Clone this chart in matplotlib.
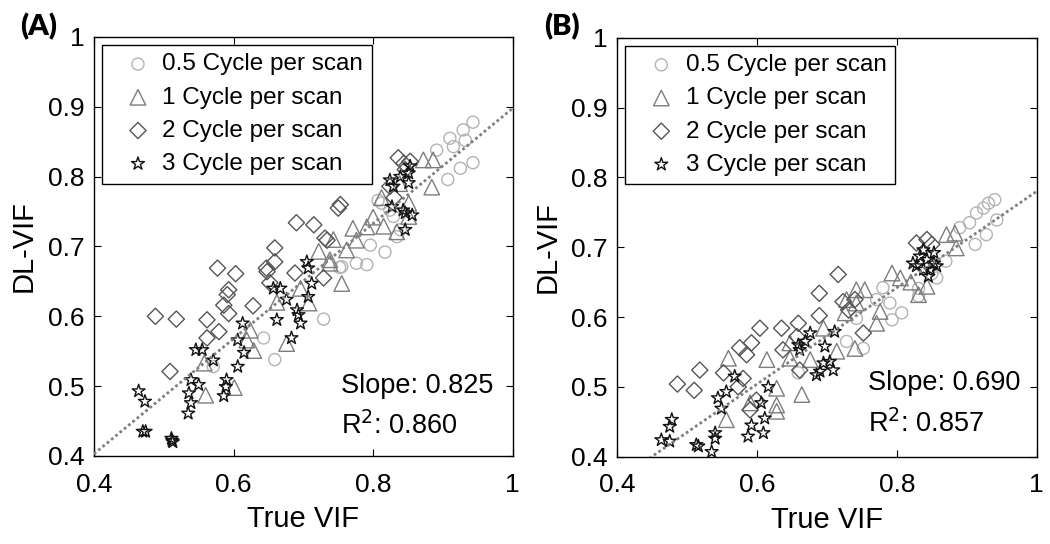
import matplotlib
matplotlib.use("Agg")
import matplotlib.pyplot as plt
import numpy as np

# ---------------- data ----------------
labels = ["0.5 Cycle per scan", "1 Cycle per scan", "2 Cycle per scan", "3 Cycle per scan"]
xticks = [0.4, 0.6, 0.8, 1.0]
xticklabels = ["0.4", "0.6", "0.8", "1"]
yticks = [0.4, 0.5, 0.6, 0.7, 0.8, 0.9, 1.0]
yticklabels = ["0.4", "0.5", "0.6", "0.7", "0.8", "0.9", "1"]

# Panel A
circ_A_x = [0.943, 0.929, 0.910, 0.932, 0.891, 0.915, 0.943, 0.925, 0.907, 0.812, 0.824, 0.829, 0.839, 0.834,
            0.796, 0.817, 0.776, 0.791, 0.755, 0.752, 0.729, 0.643, 0.659, 0.571, 0.807]
circ_A_y = [0.878, 0.867, 0.855, 0.852, 0.838, 0.843, 0.820, 0.812, 0.796, 0.762, 0.752, 0.743, 0.724, 0.714,
            0.702, 0.692, 0.676, 0.674, 0.671, 0.670, 0.596, 0.569, 0.538, 0.528, 0.766]
tri_A_x = [0.872, 0.886, 0.884, 0.851, 0.851, 0.834, 0.815, 0.800, 0.791, 0.771, 0.776, 0.762, 0.722, 0.738,
           0.738, 0.743, 0.755, 0.696, 0.708, 0.662, 0.676, 0.624, 0.619, 0.629, 0.558, 0.560, 0.601, 0.838, 0.812]
tri_A_y = [0.824, 0.824, 0.785, 0.762, 0.743, 0.721, 0.729, 0.742, 0.728, 0.726, 0.709, 0.695, 0.693, 0.681,
           0.676, 0.710, 0.647, 0.640, 0.619, 0.620, 0.561, 0.580, 0.566, 0.551, 0.533, 0.487, 0.498, 0.790, 0.770]
diam_A_x = [0.836, 0.844, 0.853, 0.846, 0.824, 0.753, 0.750, 0.690, 0.715, 0.731, 0.734, 0.659, 0.659, 0.647,
            0.688, 0.729, 0.577, 0.603, 0.593, 0.591, 0.586, 0.593, 0.628, 0.488, 0.518, 0.562, 0.579, 0.562,
            0.509, 0.652, 0.648, 0.830]
diam_A_y = [0.827, 0.819, 0.822, 0.810, 0.786, 0.760, 0.755, 0.734, 0.731, 0.712, 0.709, 0.698, 0.678, 0.669,
            0.662, 0.655, 0.669, 0.661, 0.638, 0.631, 0.616, 0.604, 0.615, 0.600, 0.596, 0.595, 0.578, 0.569,
            0.521, 0.648, 0.664, 0.770]
star_A_x = [0.464, 0.473, 0.470, 0.474, 0.511, 0.513, 0.512, 0.546, 0.555, 0.571, 0.539, 0.550, 0.536, 0.539,
            0.535, 0.590, 0.589, 0.586, 0.613, 0.606, 0.615, 0.606, 0.657, 0.667, 0.676, 0.662, 0.691, 0.693,
            0.696, 0.683, 0.705, 0.707, 0.712, 0.707, 0.824, 0.829, 0.827, 0.839, 0.853, 0.851, 0.846, 0.846,
            0.851, 0.843, 0.856]
star_A_y = [0.493, 0.478, 0.435, 0.435, 0.425, 0.420, 0.422, 0.552, 0.552, 0.537, 0.509, 0.502, 0.490, 0.476,
            0.461, 0.509, 0.499, 0.486, 0.590, 0.566, 0.548, 0.528, 0.640, 0.640, 0.624, 0.595, 0.609, 0.602,
            0.590, 0.569, 0.678, 0.669, 0.647, 0.628, 0.795, 0.786, 0.757, 0.800, 0.815, 0.791, 0.748, 0.724,
            0.805, 0.752, 0.745]

# Panel B
circ_B_x = [0.940, 0.931, 0.924, 0.914, 0.904, 0.943, 0.890, 0.928, 0.912, 0.857, 0.831, 0.831, 0.790, 0.771,
            0.793, 0.807, 0.742, 0.728, 0.752, 0.659, 0.780, 0.850, 0.870]
circ_B_y = [0.768, 0.763, 0.756, 0.749, 0.735, 0.739, 0.728, 0.718, 0.704, 0.656, 0.641, 0.630, 0.620, 0.625,
            0.596, 0.606, 0.598, 0.565, 0.555, 0.520, 0.642, 0.662, 0.680]
tri_B_x = [0.871, 0.883, 0.885, 0.793, 0.805, 0.831, 0.843, 0.742, 0.754, 0.728, 0.742, 0.726, 0.776, 0.771,
           0.695, 0.714, 0.740, 0.676, 0.647, 0.614, 0.628, 0.628, 0.628, 0.664, 0.559, 0.556, 0.590, 0.647, 0.820]
tri_B_y = [0.718, 0.720, 0.699, 0.663, 0.656, 0.632, 0.644, 0.639, 0.639, 0.625, 0.620, 0.606, 0.608, 0.591,
           0.584, 0.551, 0.555, 0.539, 0.541, 0.539, 0.498, 0.474, 0.465, 0.489, 0.541, 0.453, 0.477, 0.563, 0.650]
diam_B_x = [0.716, 0.689, 0.689, 0.659, 0.828, 0.843, 0.850, 0.723, 0.731, 0.752, 0.635, 0.604, 0.657, 0.592,
            0.575, 0.585, 0.637, 0.661, 0.552, 0.580, 0.573, 0.518, 0.486, 0.510, 0.590, 0.599, 0.740]
diam_B_y = [0.661, 0.634, 0.602, 0.591, 0.706, 0.711, 0.704, 0.622, 0.610, 0.577, 0.584, 0.584, 0.572, 0.563,
            0.556, 0.546, 0.553, 0.524, 0.520, 0.512, 0.500, 0.524, 0.504, 0.495, 0.467, 0.481, 0.625]
star_B_x = [0.478, 0.475, 0.463, 0.475, 0.513, 0.516, 0.535, 0.540, 0.540, 0.544, 0.549, 0.556, 0.568, 0.587,
            0.592, 0.606, 0.609, 0.611, 0.616, 0.659, 0.661, 0.676, 0.669, 0.697, 0.695, 0.690, 0.685, 0.704,
            0.709, 0.711, 0.823, 0.833, 0.843, 0.853, 0.838, 0.848, 0.857, 0.828, 0.845, 0.853, 0.838]
star_B_y = [0.453, 0.443, 0.424, 0.422, 0.417, 0.415, 0.407, 0.434, 0.426, 0.484, 0.469, 0.493, 0.515, 0.429,
            0.445, 0.477, 0.434, 0.455, 0.500, 0.560, 0.553, 0.577, 0.565, 0.558, 0.534, 0.522, 0.517, 0.536,
            0.524, 0.579, 0.677, 0.687, 0.682, 0.677, 0.668, 0.668, 0.673, 0.673, 0.658, 0.692, 0.696]

fit_slope = [0.825, 0.690]
fit_intercept = [0.073, 0.090]
r2 = [0.860, 0.857]
panel_tags = ["(A)", "(B)"]

# ---------------- style ----------------
plt.rcParams['font.family'] = ['Liberation Sans', 'DejaVu Sans']
styles = [
    dict(marker='o', s=75, edgecolor='#b3b3b3'),
    dict(marker='^', s=125, edgecolor='#7d7d7d'),
    dict(marker='D', s=68, edgecolor='#555555'),
    dict(marker='*', s=95, edgecolor='#111111'),
]

fig = plt.figure(figsize=(10.5, 5.44), dpi=100)
axA = fig.add_axes([0.0895, 0.1618, 0.3988, 0.7702])
axB = fig.add_axes([0.5879, 0.1605, 0.3994, 0.7702])

panels = [
    (axA, [(circ_A_x, circ_A_y), (tri_A_x, tri_A_y), (diam_A_x, diam_A_y), (star_A_x, star_A_y)]),
    (axB, [(circ_B_x, circ_B_y), (tri_B_x, tri_B_y), (diam_B_x, diam_B_y), (star_B_x, star_B_y)]),
]
text_y = [(0.151, 0.052), (0.159, 0.060)]
text_x = [0.589, 0.598]
tag_pos = [(0.019, 0.952), (0.518, 0.952)]

for i, (ax, series) in enumerate(panels):
    handles = []
    for (xs, ys), st, lab in zip(series, styles, labels):
        h = ax.scatter(xs, ys, marker=st['marker'], s=st['s'], facecolors='none',
                       edgecolors=st['edgecolor'], linewidths=1.0, label=lab, zorder=3)
        handles.append(h)
    xl = np.array([0.4, 1.0])
    ax.plot(xl, fit_slope[i] * xl + fit_intercept[i], linestyle=(0, (1, 1)), color='#7f7f7f',
            linewidth=2.0, zorder=4)
    ax.set_xlim(0.4, 1.0)
    ax.set_ylim(0.4, 1.0)
    ax.set_xticks(xticks)
    ax.set_xticklabels(xticklabels)
    ax.set_yticks(yticks)
    ax.set_yticklabels(yticklabels)
    ax.tick_params(direction='in', length=5, width=0.8, top=True, right=True, labelsize=19)
    ax.tick_params(axis='x', pad=12)
    ax.tick_params(axis='y', pad=7)
    for sp in ax.spines.values():
        sp.set_linewidth(1.0)
    ax.set_xlabel("True VIF", fontsize=21, labelpad=6)
    ax.set_ylabel("DL-VIF", fontsize=21, labelpad=7)
    leg = ax.legend(handles=handles, loc='upper left', bbox_to_anchor=(0.018, 0.981),
                    borderaxespad=0, fontsize=17.5, frameon=True, fancybox=False,
                    edgecolor='black', framealpha=1, borderpad=0.35, labelspacing=0.46,
                    handlelength=2.3, handletextpad=-0.15, scatterpoints=1)
    leg.get_frame().set_linewidth(1.0)
    ax.text(text_x[i], text_y[i][0], "Slope: %.3f" % fit_slope[i], transform=ax.transAxes,
            fontsize=19.5, va='baseline', ha='left')
    ax.text(text_x[i], text_y[i][1], "R$^2$: %.3f" % r2[i], transform=ax.transAxes,
            fontsize=19.5, va='baseline', ha='left')
    fig.text(tag_pos[i][0], tag_pos[i][1], panel_tags[i], fontsize=21, fontweight='heavy',
             family=['Lato', 'DejaVu Sans'], va='center', ha='left')

fig.savefig("out.png", dpi=100)
